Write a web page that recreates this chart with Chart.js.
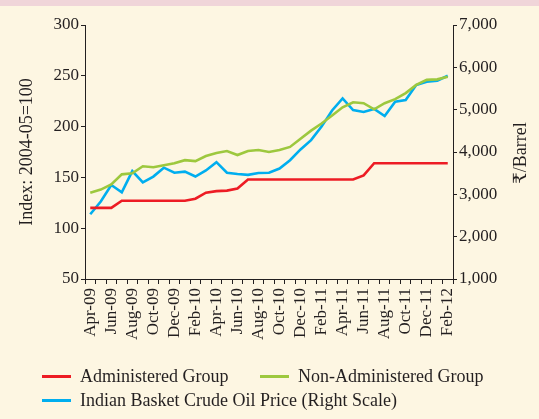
<!DOCTYPE html>
<html>
<head>
<meta charset="utf-8">
<script src="https://cdn.jsdelivr.net/npm/chart.js@4.4.1/dist/chart.umd.min.js"></script>
<style>
  html, body { margin: 0; padding: 0; background: #fdf6e2; }
  #wrap { position: relative; width: 539px; height: 419px; overflow: hidden; }
  #band { position: absolute; left: 0; top: 0; width: 539px; height: 6px; background: #f0d5d9; }
  canvas { position: absolute; left: 0; top: 0; }
  .leg { position: absolute; font-family: "Liberation Serif", serif; font-size: 18px; color: #231f20; white-space: nowrap; line-height: 20px; }
  .leg i { position: absolute; left: -38px; top: 9px; width: 29px; height: 3px; }
</style>
</head>
<body>
<div id="wrap">
  <div id="band"></div>
  <canvas id="chart" width="539" height="419"></canvas>
  <div class="leg" style="left:80px; top:366px;"><i style="background:#ed1c24"></i>Administered Group</div>
  <div class="leg" style="left:298px; top:366px;"><i style="background:#9dc83e"></i>Non-Administered Group</div>
  <div class="leg" style="left:80px; top:390px;"><i style="background:#00aeef"></i>Indian Basket Crude Oil Price (Right Scale)</div>
</div>
<script>
const months = [
  "Apr-09", "May-09", "Jun-09", "Jul-09", "Aug-09", "Sep-09", "Oct-09", "Nov-09", "Dec-09",
  "Jan-10", "Feb-10", "Mar-10", "Apr-10", "May-10", "Jun-10", "Jul-10", "Aug-10", "Sep-10",
  "Oct-10", "Nov-10", "Dec-10", "Jan-11", "Feb-11", "Mar-11", "Apr-11", "May-11", "Jun-11",
  "Jul-11", "Aug-11", "Sep-11", "Oct-11", "Nov-11", "Dec-11", "Jan-12", "Feb-12"
];

// index, 2004-05=100
const administered = [
  120, 120, 120, 127, 127, 127, 127, 127, 127,
  127, 129, 135, 136.5, 137, 139, 148, 148, 148,
  148, 148, 148, 148, 148, 148, 148, 148, 152,
  164, 164, 164, 164, 164, 164, 164, 164
];
const nonAdministered = [
  135, 138, 143, 153, 154, 161, 160, 162, 164,
  167, 166, 171, 174, 176, 172, 176, 177, 175,
  177, 180, 188, 196, 203, 211, 219, 224, 223,
  217, 223, 227, 233, 241, 246, 246.5, 249
];
// Rs per barrel, right scale
const crudePrice = [
  2530, 2830, 3220, 3050, 3550, 3285, 3420, 3630, 3510,
  3535, 3420, 3565, 3760, 3510, 3480, 3460, 3505, 3510,
  3610, 3805, 4060, 4280, 4600, 4980, 5265, 4990, 4945,
  5015, 4850, 5190, 5230, 5580, 5660, 5685, 5800
];

const leftTicks = { min: 50, max: 300, step: 50 };
const rightTicks = { min: 1000, max: 7000, step: 1000 };

const ink = "#231f20";
const tickFont = { family: "Liberation Serif", size: 17 };

const fmt = v => String(v).replace(/\B(?=(\d{3})+(?!\d))/g, ",");

// axis titles drawn by hand so the right one reads bottom-to-top like the left
const axisTitles = {
  id: "axisTitles",
  afterDraw(chart) {
    const ctx = chart.ctx;
    ctx.save();
    ctx.fillStyle = ink;
    ctx.font = "18px 'Liberation Serif', serif";
    ctx.textAlign = "center";
    ctx.textBaseline = "middle";
    ctx.translate(27, 152);
    ctx.rotate(-Math.PI / 2);
    ctx.fillText("Index: 2004-05=100", 0, 0);
    ctx.restore();

    ctx.save();
    ctx.fillStyle = ink;
    ctx.font = "18px 'Liberation Serif', 'DejaVu Serif', serif";
    ctx.textAlign = "center";
    ctx.textBaseline = "middle";
    ctx.translate(521, 153);
    ctx.rotate(-Math.PI / 2);
    ctx.fillText("\u20B9/Barrel", 0, 0);
    ctx.restore();
  }
};

new Chart(document.getElementById("chart"), {
  type: "line",
  data: {
    labels: months,
    datasets: [
      { label: "Administered Group", data: administered, borderColor: "#ed1c24", yAxisID: "y" },
      { label: "Non-Administered Group", data: nonAdministered, borderColor: "#9dc83e", yAxisID: "y" },
      { label: "Indian Basket Crude Oil Price (Right Scale)", data: crudePrice, borderColor: "#00aeef", yAxisID: "y2" }
    ]
  },
  options: {
    responsive: false,
    animation: false,
    layout: { padding: { top: 25, bottom: 70, left: 0, right: 0 } },
    elements: {
      line: { borderWidth: 2.6, tension: 0, borderCapStyle: "butt" },
      point: { radius: 0 }
    },
    plugins: { legend: { display: false }, tooltip: { enabled: false } },
    scales: {
      x: {
        offset: true,
        grid: { offset: true, drawOnChartArea: false, tickLength: 5, color: ink, tickWidth: 1 },
        border: { color: ink, width: 1 },
        ticks: {
          autoSkip: false, maxRotation: 90, minRotation: 90, padding: 4,
          color: ink, font: tickFont,
          callback: (v, i) => (i % 2 === 0 ? months[i] : "")
        },
        afterFit: s => { s.height = 70; }
      },
      y: {
        position: "left",
        min: leftTicks.min, max: leftTicks.max,
        grid: { drawOnChartArea: false, tickLength: 4, color: ink },
        border: { color: ink, width: 1 },
        ticks: { stepSize: leftTicks.step, padding: 2, color: ink, font: tickFont },
        afterFit: s => { s.width = 85; }
      },
      y2: {
        position: "right",
        min: rightTicks.min, max: rightTicks.max,
        grid: { drawOnChartArea: false, tickLength: 4, color: ink },
        border: { color: ink, width: 1 },
        ticks: { stepSize: rightTicks.step, padding: 2, color: ink, font: tickFont, callback: v => fmt(v) },
        afterFit: s => { s.width = 86; }
      }
    }
  },
  plugins: [axisTitles]
});
</script>
</body>
</html>
